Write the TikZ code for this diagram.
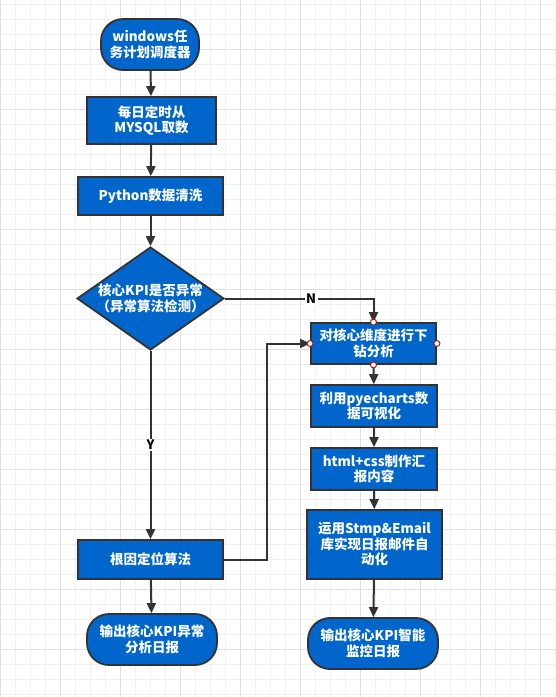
\documentclass[tikz,border=0pt]{standalone}
\usepackage{fontspec}
\setmainfont{Noto Sans CJK SC}
\usetikzlibrary{arrows.meta,shapes.geometric}
\definecolor{nodeblue}{RGB}{0,102,204}
\definecolor{linegray}{RGB}{51,51,51}
\definecolor{gridlight}{RGB}{240,240,240}
\definecolor{gridheavy}{RGB}{224,224,224}
\definecolor{portred}{RGB}{160,30,30}

\begin{document}
\begin{tikzpicture}[x=1pt,y=-1pt,
    >={Triangle[length=10pt,width=9pt]},
    box/.style={draw=linegray, line width=1.8pt, fill=nodeblue, text=white,
        font=\bfseries\fontsize{13.5}{15.5}\selectfont, align=center, inner sep=0pt},
    terminal/.style={box, rounded corners=22pt},
    decision/.style={box, diamond, minimum width=147pt, minimum height=103pt},
    flow/.style={->, draw=linegray, line width=2pt},
    yesno/.style={fill=white, text=black, font=\bfseries\fontsize{13}{15}\selectfont, inner sep=1.5pt}]
    % Background grid
    \useasboundingbox (0,0) rectangle (556,697);
    \fill[white] (0,0) rectangle (556,697);
    \foreach \x in {0.7,15.7,...,556}
        \draw[gridlight, line width=1pt] (\x,0) -- (\x,697);
    \foreach \y in {4.3,19.3,...,697}
        \draw[gridlight, line width=1pt] (0,\y) -- (556,\y);
    \foreach \x in {0.7,60.7,...,556}
        \draw[gridheavy, line width=1pt] (\x,0) -- (\x,697);
    \foreach \y in {49.3,109.3,...,697}
        \draw[gridheavy, line width=1pt] (0,\y) -- (556,\y);
    % Left column
    \node[terminal, minimum width=98pt, minimum height=51pt] (sched) at (150,44.5)
        {windows任\\务计划调度器};
    \node[box, minimum width=129pt, minimum height=47pt] (fetch) at (151.5,120.5)
        {每日定时从\\MYSQL取数};
    \node[box, minimum width=145pt, minimum height=38pt] (clean) at (150.5,196)
        {Python数据清洗};
    \node[decision, label={[text=white, font=\bfseries\fontsize{13.5}{15.5}\selectfont, align=center]center:核心KPI是否异常\\（异常算法检测）}] (check) at (150.5,298.5) {};
    \node[box, minimum width=145pt, minimum height=39pt] (root) at (150.5,559.5)
        {根因定位算法};
    \node[terminal, minimum width=130pt, minimum height=51pt] (report) at (152,639.5)
        {输出核心KPI异常\\分析日报};
    % Right column
    \node[box, minimum width=125pt, minimum height=41pt] (drill) at (373.5,343.5)
        {对核心维度进行下\\钻分析};
    \node[box, minimum width=126pt, minimum height=42pt] (chart) at (374,406)
        {利用pyecharts数\\据可视化};
    \node[box, minimum width=126pt, minimum height=42pt] (html) at (374,469)
        {html+css制作汇\\报内容};
    \node[box, minimum width=135pt, minimum height=69pt] (mail) at (374.5,544.5)
        {运用Stmp\&Email\\库实现日报邮件自\\动化};
    \node[terminal, minimum width=130pt, minimum height=51pt] (monitor) at (373,643.5)
        {输出核心KPI智能\\监控日报};
    % Connectors
    \draw[flow] (sched) -- (fetch);
    \draw[flow] (fetch) -- (clean);
    \draw[flow] (clean) -- (check);
    \draw[flow] (check.east) -| (drill.north) node[pos=0.29, yesno] {N};
    \draw[flow] (check.south) -- (root.north) node[midway, yesno] {Y};
    \coordinate (bend) at (267,559.5);
    \draw[flow] (root.east) -- (bend) |- (drill.west);
    \draw[flow] (root) -- (report);
    \draw[flow] (drill) -- (chart);
    \draw[flow] (chart) -- (html);
    \draw[flow] (html) -- (mail);
    \draw[flow] (mail) -- (monitor);
    % Connection points
    \foreach \a in {north,south,east,west}
        \draw[portred, fill=white, line width=1pt] (drill.\a) circle (3pt);
\end{tikzpicture}
\end{document}
